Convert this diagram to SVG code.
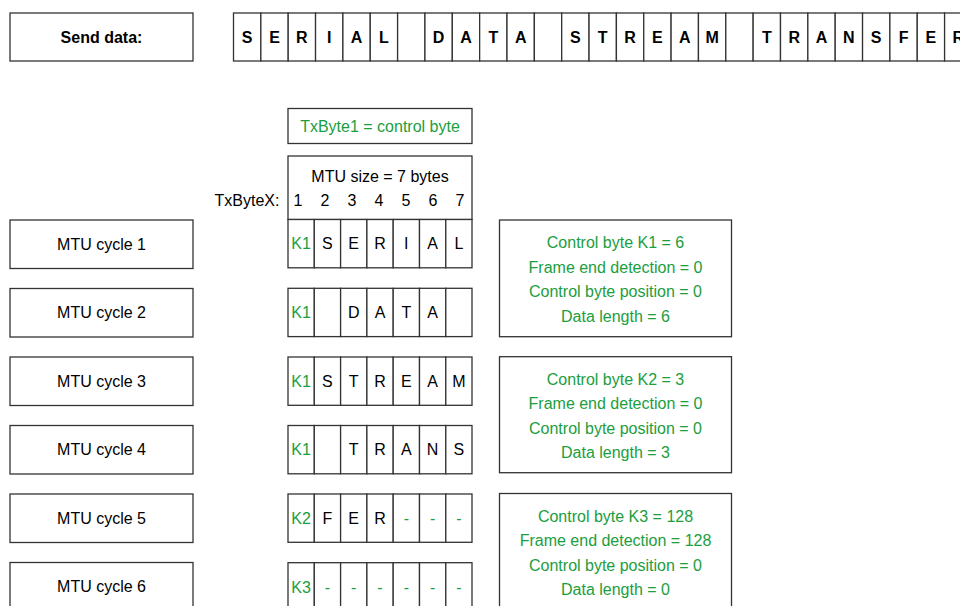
<svg xmlns="http://www.w3.org/2000/svg" width="960" height="606" viewBox="0 0 960 606">
<style>
rect{fill:#fff;stroke:#333;stroke-width:1.3}
text{font-family:"Liberation Sans",Arial,sans-serif;font-size:16px;text-anchor:middle;fill:#000}
.b{font-weight:bold}
.g{fill:#1b9e3e}
</style>
<g id="send-data"><rect x="10" y="13" width="183" height="48"/><text class="b" x="101.5" y="42.7">Send data:</text></g>
<g id="stream" class="b">
<rect x="233.5" y="13" width="27.35" height="48"/><text class="b" x="247.2" y="42.7">S</text>
<rect x="260.85" y="13" width="27.35" height="48"/><text class="b" x="274.5" y="42.7">E</text>
<rect x="288.2" y="13" width="27.35" height="48"/><text class="b" x="301.9" y="42.7">R</text>
<rect x="315.55" y="13" width="27.35" height="48"/><text class="b" x="329.2" y="42.7">I</text>
<rect x="342.9" y="13" width="27.35" height="48"/><text class="b" x="356.6" y="42.7">A</text>
<rect x="370.25" y="13" width="27.35" height="48"/><text class="b" x="383.9" y="42.7">L</text>
<rect x="397.6" y="13" width="27.35" height="48"/>
<rect x="424.95" y="13" width="27.35" height="48"/><text class="b" x="438.6" y="42.7">D</text>
<rect x="452.3" y="13" width="27.35" height="48"/><text class="b" x="466" y="42.7">A</text>
<rect x="479.65" y="13" width="27.35" height="48"/><text class="b" x="493.3" y="42.7">T</text>
<rect x="507" y="13" width="27.35" height="48"/><text class="b" x="520.7" y="42.7">A</text>
<rect x="534.35" y="13" width="27.35" height="48"/>
<rect x="561.7" y="13" width="27.35" height="48"/><text class="b" x="575.4" y="42.7">S</text>
<rect x="589.05" y="13" width="27.35" height="48"/><text class="b" x="602.7" y="42.7">T</text>
<rect x="616.4" y="13" width="27.35" height="48"/><text class="b" x="630.1" y="42.7">R</text>
<rect x="643.75" y="13" width="27.35" height="48"/><text class="b" x="657.4" y="42.7">E</text>
<rect x="671.1" y="13" width="27.35" height="48"/><text class="b" x="684.8" y="42.7">A</text>
<rect x="698.45" y="13" width="27.35" height="48"/><text class="b" x="712.1" y="42.7">M</text>
<rect x="725.8" y="13" width="27.35" height="48"/>
<rect x="753.15" y="13" width="27.35" height="48"/><text class="b" x="766.8" y="42.7">T</text>
<rect x="780.5" y="13" width="27.35" height="48"/><text class="b" x="794.2" y="42.7">R</text>
<rect x="807.85" y="13" width="27.35" height="48"/><text class="b" x="821.5" y="42.7">A</text>
<rect x="835.2" y="13" width="27.35" height="48"/><text class="b" x="848.9" y="42.7">N</text>
<rect x="862.55" y="13" width="27.35" height="48"/><text class="b" x="876.2" y="42.7">S</text>
<rect x="889.9" y="13" width="27.35" height="48"/><text class="b" x="903.6" y="42.7">F</text>
<rect x="917.25" y="13" width="27.35" height="48"/><text class="b" x="930.9" y="42.7">E</text>
<rect x="944.6" y="13" width="27.35" height="48"/><text class="b" x="958.3" y="42.7">R</text>
</g>
<g id="txbyte1"><rect x="288" y="108.5" width="184" height="35"/><text class="g" x="380" y="131.5">TxByte1 = control byte</text></g>
<g id="mtu-header"><rect x="288" y="156" width="184" height="63.5"/>
<text x="380" y="181.7">MTU size = 7 bytes</text>
<text x="247" y="205.8">TxByteX:</text>
<text x="298" y="205.8">1</text><text x="325" y="205.8">2</text><text x="352" y="205.8">3</text><text x="379" y="205.8">4</text><text x="406" y="205.8">5</text><text x="433" y="205.8">6</text><text x="460" y="205.8">7</text>
</g>
<g id="cycle1"><rect x="10" y="220" width="183" height="48.5"/><text x="101.5" y="249.9">MTU cycle 1</text></g>
<g id="cycle2"><rect x="10" y="288.5" width="183" height="48.5"/><text x="101.5" y="318.4">MTU cycle 2</text></g>
<g id="cycle3"><rect x="10" y="357" width="183" height="48.5"/><text x="101.5" y="386.9">MTU cycle 3</text></g>
<g id="cycle4"><rect x="10" y="425.5" width="183" height="48.5"/><text x="101.5" y="455.4">MTU cycle 4</text></g>
<g id="cycle5"><rect x="10" y="494" width="183" height="48.5"/><text x="101.5" y="523.9">MTU cycle 5</text></g>
<g id="cycle6"><rect x="10" y="562.5" width="183" height="48.5"/><text x="101.5" y="592.4">MTU cycle 6</text></g>
<g id="row1">
<rect x="288" y="219.5" width="26.3" height="48.3"/><rect x="314.3" y="219.5" width="26.3" height="48.3"/><rect x="340.6" y="219.5" width="26.3" height="48.3"/><rect x="366.9" y="219.5" width="26.3" height="48.3"/><rect x="393.2" y="219.5" width="26.3" height="48.3"/><rect x="419.5" y="219.5" width="26.3" height="48.3"/><rect x="445.8" y="219.5" width="26.2" height="48.3"/>
<text class="g" x="301" y="249.3">K1</text><text x="327.4" y="249.3">S</text><text x="353.7" y="249.3">E</text><text x="380" y="249.3">R</text><text x="406.3" y="249.3">I</text><text x="432.6" y="249.3">A</text><text x="458.9" y="249.3">L</text>
</g>
<g id="row2">
<rect x="288" y="288.3" width="26.3" height="48.3"/><rect x="314.3" y="288.3" width="26.3" height="48.3"/><rect x="340.6" y="288.3" width="26.3" height="48.3"/><rect x="366.9" y="288.3" width="26.3" height="48.3"/><rect x="393.2" y="288.3" width="26.3" height="48.3"/><rect x="419.5" y="288.3" width="26.3" height="48.3"/><rect x="445.8" y="288.3" width="26.2" height="48.3"/>
<text class="g" x="301" y="318.1">K1</text><text x="353.7" y="318.1">D</text><text x="380" y="318.1">A</text><text x="406.3" y="318.1">T</text><text x="432.6" y="318.1">A</text>
</g>
<g id="row3">
<rect x="288" y="357" width="26.3" height="48.3"/><rect x="314.3" y="357" width="26.3" height="48.3"/><rect x="340.6" y="357" width="26.3" height="48.3"/><rect x="366.9" y="357" width="26.3" height="48.3"/><rect x="393.2" y="357" width="26.3" height="48.3"/><rect x="419.5" y="357" width="26.3" height="48.3"/><rect x="445.8" y="357" width="26.2" height="48.3"/>
<text class="g" x="301" y="386.8">K1</text><text x="327.4" y="386.8">S</text><text x="353.7" y="386.8">T</text><text x="380" y="386.8">R</text><text x="406.3" y="386.8">E</text><text x="432.6" y="386.8">A</text><text x="458.9" y="386.8">M</text>
</g>
<g id="row4">
<rect x="288" y="425.5" width="26.3" height="48.3"/><rect x="314.3" y="425.5" width="26.3" height="48.3"/><rect x="340.6" y="425.5" width="26.3" height="48.3"/><rect x="366.9" y="425.5" width="26.3" height="48.3"/><rect x="393.2" y="425.5" width="26.3" height="48.3"/><rect x="419.5" y="425.5" width="26.3" height="48.3"/><rect x="445.8" y="425.5" width="26.2" height="48.3"/>
<text class="g" x="301" y="455.3">K1</text><text x="353.7" y="455.3">T</text><text x="380" y="455.3">R</text><text x="406.3" y="455.3">A</text><text x="432.6" y="455.3">N</text><text x="458.9" y="455.3">S</text>
</g>
<g id="row5">
<rect x="288" y="494" width="26.3" height="48.3"/><rect x="314.3" y="494" width="26.3" height="48.3"/><rect x="340.6" y="494" width="26.3" height="48.3"/><rect x="366.9" y="494" width="26.3" height="48.3"/><rect x="393.2" y="494" width="26.3" height="48.3"/><rect x="419.5" y="494" width="26.3" height="48.3"/><rect x="445.8" y="494" width="26.2" height="48.3"/>
<text class="g" x="301" y="523.8">K2</text><text x="327.4" y="523.8">F</text><text x="353.7" y="523.8">E</text><text x="380" y="523.8">R</text><text class="g" x="406.3" y="523.8">-</text><text class="g" x="432.6" y="523.8">-</text><text class="g" x="458.9" y="523.8">-</text>
</g>
<g id="row6">
<rect x="288" y="562.7" width="26.3" height="48.3"/><rect x="314.3" y="562.7" width="26.3" height="48.3"/><rect x="340.6" y="562.7" width="26.3" height="48.3"/><rect x="366.9" y="562.7" width="26.3" height="48.3"/><rect x="393.2" y="562.7" width="26.3" height="48.3"/><rect x="419.5" y="562.7" width="26.3" height="48.3"/><rect x="445.8" y="562.7" width="26.2" height="48.3"/>
<text class="g" x="301" y="592.5">K3</text><text class="g" x="327.4" y="592.5">-</text><text class="g" x="353.7" y="592.5">-</text><text class="g" x="380" y="592.5">-</text><text class="g" x="406.3" y="592.5">-</text><text class="g" x="432.6" y="592.5">-</text><text class="g" x="458.9" y="592.5">-</text>
</g>
<g id="info1"><rect x="499.5" y="220" width="232" height="116.7"/>
<text class="g" x="615.5" y="248.2">Control byte K1 = 6</text>
<text class="g" x="615.5" y="272.7">Frame end detection = 0</text>
<text class="g" x="615.5" y="297.2">Control byte position = 0</text>
<text class="g" x="615.5" y="321.7">Data length = 6</text>
</g>
<g id="info2"><rect x="499.5" y="356.7" width="232" height="116"/>
<text class="g" x="615.5" y="384.9">Control byte K2 = 3</text>
<text class="g" x="615.5" y="409.4">Frame end detection = 0</text>
<text class="g" x="615.5" y="433.9">Control byte position = 0</text>
<text class="g" x="615.5" y="458.4">Data length = 3</text>
</g>
<g id="info3"><rect x="499.5" y="493.5" width="232" height="120"/>
<text class="g" x="615.5" y="521.7">Control byte K3 = 128</text>
<text class="g" x="615.5" y="546.2">Frame end detection = 128</text>
<text class="g" x="615.5" y="570.7">Control byte position = 0</text>
<text class="g" x="615.5" y="595.2">Data length = 0</text>
</g>
<g id="connectors"/>
</svg>
